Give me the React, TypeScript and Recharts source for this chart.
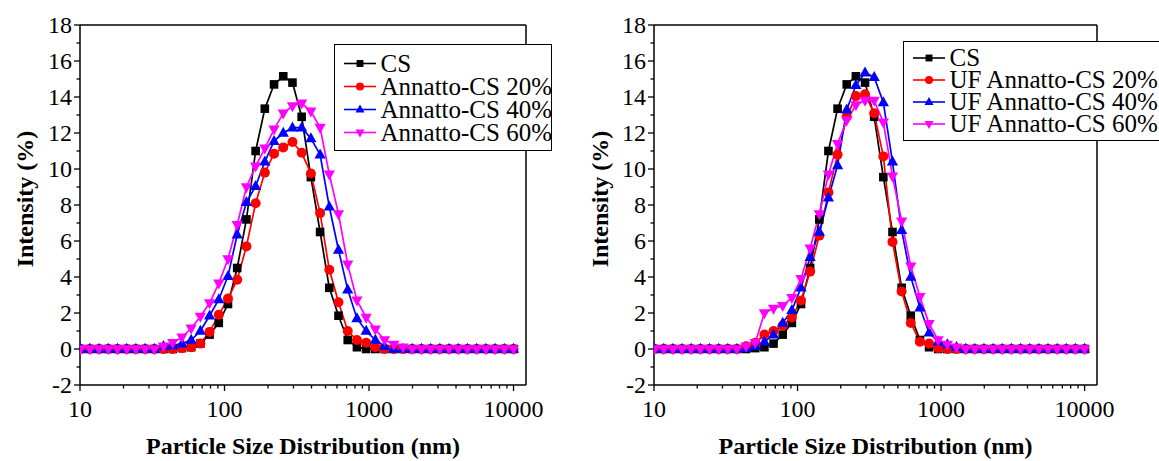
import React from 'react';
import { LineChart, Line, XAxis, YAxis, ReferenceLine, Legend } from 'recharts';

// DLS size bins (nm), 10 nm .. 10000 nm
const sizeNm = [
  10.1, 11.7, 13.54, 15.69, 18.17, 21.04, 24.36, 28.21, 32.67, 37.84,
  43.82, 50.75, 58.77, 68.06, 78.82, 91.28, 105.7, 122.4, 141.8, 164.2,
  190.1, 220.2, 255.0, 295.3, 342.0, 396.1, 458.7, 531.2, 615.1, 712.4,
  825.0, 955.4, 1106, 1281, 1484, 1718, 1990, 2305, 2669, 3091,
  3580, 4145, 4801, 5560, 6439, 7456, 8635, 10000,
];

const csValues = [
  0, 0, 0, 0, 0, 0, 0, 0, 0, 0,
  0, 0.05, 0.1, 0.3, 0.8, 1.45, 2.5, 4.5, 7.2, 11.0,
  13.35, 14.7, 15.15, 14.8, 12.9, 9.55, 6.5, 3.4, 1.85, 0.5,
  0.1, 0, 0, 0, 0, 0, 0, 0, 0, 0,
  0, 0, 0, 0, 0, 0, 0, 0,
];
const annatto20 = [
  0, 0, 0, 0, 0, 0, 0, 0, 0, 0,
  0, 0.05, 0.1, 0.3, 0.95, 1.9, 2.8, 3.85, 5.7, 8.1,
  9.8, 10.85, 11.2, 11.5, 10.9, 9.75, 7.55, 4.4, 2.6, 1.0,
  0.5, 0.35, 0.1, 0, 0, 0, 0, 0, 0, 0,
  0, 0, 0, 0, 0, 0, 0, 0,
];
const annatto40 = [
  0, 0, 0, 0, 0, 0, 0, 0, 0, 0.15,
  0.2, 0.3, 0.5, 1.0, 1.85, 2.75, 4.05, 6.35, 8.15, 9.05,
  10.4, 11.55, 12.0, 12.3, 12.3, 11.7, 10.8, 7.9, 5.5, 3.3,
  1.7, 1.0, 0.5, 0.15, 0, 0, 0, 0, 0, 0,
  0, 0, 0, 0, 0, 0, 0, 0,
];
const annatto60 = [
  0, 0, 0, 0, 0, 0, 0, 0, 0, 0.15,
  0.35, 0.65, 1.15, 1.8, 2.55, 3.65, 5.0, 6.9, 9.0, 10.15,
  11.15, 12.2, 13.1, 13.5, 13.65, 13.2, 12.3, 9.7, 7.5, 4.7,
  2.7, 1.75, 1.1, 0.5, 0.25, 0.1, 0, 0, 0, 0,
  0, 0, 0, 0, 0, 0, 0, 0,
];
const ufAnnatto20 = [
  0, 0, 0, 0, 0, 0, 0, 0, 0, 0,
  0.15, 0.35, 0.8, 1.0, 1.3, 1.75, 2.7, 4.3, 6.3, 8.7,
  10.8, 12.9, 14.05, 14.15, 13.1, 10.7, 5.95, 3.2, 1.45, 0.4,
  0.3, 0.05, 0, 0, 0, 0, 0, 0, 0, 0,
  0, 0, 0, 0, 0, 0, 0, 0,
];
const ufAnnatto40 = [
  0, 0, 0, 0, 0, 0, 0, 0, 0, 0,
  0.05, 0.15, 0.4, 0.8, 1.45, 2.15, 3.4, 5.1, 6.5, 8.4,
  10.2, 13.3, 14.65, 15.35, 15.1, 13.7, 10.4, 6.6, 4.0, 2.3,
  0.9, 0.4, 0.25, 0.1, 0, 0, 0, 0, 0, 0,
  0, 0, 0, 0, 0, 0, 0, 0,
];
const ufAnnatto60 = [
  0, 0, 0, 0, 0, 0, 0, 0, 0, 0,
  0.15, 0.35, 2.0, 2.25, 2.4, 2.85, 3.9, 5.6, 7.5, 9.7,
  11.4, 12.7, 13.55, 13.8, 13.8, 12.6, 9.6, 7.1, 4.6, 2.9,
  1.4, 0.5, 0.25, 0.1, 0, 0, 0, 0, 0, 0,
  0, 0, 0, 0, 0, 0, 0, 0,
];

const xMajorTicks = [10, 100, 1000, 10000];
const xMinorTicks = [
  20, 30, 40, 50, 60, 70, 80, 90,
  200, 300, 400, 500, 600, 700, 800, 900,
  2000, 3000, 4000, 5000, 6000, 7000, 8000, 9000,
];
const yTicks = [-2, -1, 0, 1, 2, 3, 4, 5, 6, 7, 8, 9, 10, 11, 12, 13, 14, 15, 16, 17, 18];
const X_MAX = 12200;

const FONT = '"Liberation Serif", "Times New Roman", serif';

type Shape = 'square' | 'circle' | 'up' | 'down';
interface Series {
  key: string;
  name: string;
  color: string;
  shape: Shape;
  values: number[];
}

const leftSeries: Series[] = [
  { key: 'cs', name: 'CS', color: '#000000', shape: 'square', values: csValues },
  { key: 'a20', name: 'Annatto-CS 20%', color: '#ff0000', shape: 'circle', values: annatto20 },
  { key: 'a40', name: 'Annatto-CS 40%', color: '#0000ff', shape: 'up', values: annatto40 },
  { key: 'a60', name: 'Annatto-CS 60%', color: '#ff00ff', shape: 'down', values: annatto60 },
];
const rightSeries: Series[] = [
  { key: 'cs', name: 'CS', color: '#000000', shape: 'square', values: csValues },
  { key: 'u20', name: 'UF Annatto-CS 20%', color: '#ff0000', shape: 'circle', values: ufAnnatto20 },
  { key: 'u40', name: 'UF Annatto-CS 40%', color: '#0000ff', shape: 'up', values: ufAnnatto40 },
  { key: 'u60', name: 'UF Annatto-CS 60%', color: '#ff00ff', shape: 'down', values: ufAnnatto60 },
];

function Marker({ shape, cx, cy, color, s = 1 }: { shape: Shape; cx?: number; cy?: number; color: string; s?: number }) {
  if (cx == null || cy == null) return null;
  if (shape === 'square') return <rect x={cx - 4.3 * s} y={cy - 4.3 * s} width={8.6 * s} height={8.6 * s} fill={color} />;
  if (shape === 'circle') return <circle cx={cx} cy={cy} r={5 * s} fill={color} />;
  if (shape === 'up')
    return <polygon points={`${cx},${cy - 6.2 * s} ${cx + 5.6 * s},${cy + 3.8 * s} ${cx - 5.6 * s},${cy + 3.8 * s}`} fill={color} />;
  return <polygon points={`${cx},${cy + 6.2 * s} ${cx + 5.6 * s},${cy - 3.8 * s} ${cx - 5.6 * s},${cy - 3.8 * s}`} fill={color} />;
}

const XTick = (props: any) => {
  const { x, y, payload } = props;
  const major = xMajorTicks.includes(payload.value);
  return (
    <g>
      <line x1={x} x2={x} y1={y} y2={y + (major ? 6 : 3.5)} stroke="#000" strokeWidth={1.3} />
      {major && (
        <text x={x} y={y + 32} textAnchor="middle" fontSize={24} fontFamily={FONT} fill="#000">
          {payload.value}
        </text>
      )}
    </g>
  );
};

const YTick = (props: any) => {
  const { x, y, payload } = props;
  const major = payload.value % 2 === 0;
  return (
    <g>
      <line x1={x} x2={x - (major ? 6 : 3.5)} y1={y} y2={y} stroke="#000" strokeWidth={1.3} />
      {major && (
        <text x={x - 8} y={y + 8} textAnchor="end" fontSize={24} fontFamily={FONT} fill="#000">
          {payload.value}
        </text>
      )}
    </g>
  );
};

function LegendBox({ items, width, padTop, rowH }: { items: Series[]; width: number; padTop: number; rowH: number }) {
  return (
    <div
      style={{
        border: '1.5px solid #000',
        background: '#fff',
        boxSizing: 'border-box',
        width,
        padding: `${padTop}px 0 ${padTop}px 8.5px`,
        fontFamily: FONT,
        fontSize: 25,
        color: '#000',
        whiteSpace: 'nowrap',
      }}
    >
      {items.map((s) => (
        <div key={s.key} style={{ display: 'flex', alignItems: 'center', height: rowH, lineHeight: `${rowH}px` }}>
          <svg width={32} height={rowH} style={{ display: 'block', flex: 'none' }}>
            <line x1={0} x2={32} y1={rowH / 2} y2={rowH / 2} stroke={s.color} strokeWidth={1.6} />
            <Marker shape={s.shape} cx={16} cy={rowH / 2} color={s.color} s={0.8} />
          </svg>
          <span style={{ marginLeft: 5 }}>{s.name}</span>
        </div>
      ))}
    </div>
  );
}

interface PanelProps {
  series: Series[];
  width: number;
  marginRight: number;
  yAxisWidth: number;
  legendLeft: number;
  legendTop: number;
  legendWidth: number;
  legendPad: number;
  legendRow: number;
}

function Panel({ series, width, marginRight, yAxisWidth, legendLeft, legendTop, legendWidth, legendPad, legendRow }: PanelProps) {
  const data = sizeNm.map((size, i) => {
    const row: Record<string, number> = { size };
    series.forEach((s) => {
      row[s.key] = s.values[i];
    });
    return row;
  });

  return (
    <LineChart width={width} height={461} data={data} margin={{ top: 25, right: marginRight, bottom: 0, left: 0 }}>
      <XAxis
        dataKey="size"
        type="number"
        scale="log"
        domain={[10, X_MAX]}
        allowDataOverflow
        ticks={[...xMajorTicks, ...xMinorTicks].sort((a, b) => a - b)}
        interval={0}
        tick={(p: any) => <XTick {...p} />}
        tickLine={false}
        tickSize={0}
        tickMargin={0}
        height={76}
        axisLine={{ stroke: '#000', strokeWidth: 1.5 }}
        label={{
          content: (p: any) => {
            const vb = p.viewBox || { x: 0, y: 0, width: 0 };
            return (
              <text
                x={vb.x + vb.width / 2}
                y={vb.y + 69}
                textAnchor="middle"
                fontSize={24}
                fontWeight="bold"
                fontFamily={FONT}
                fill="#000"
              >
                Particle Size Distribution (nm)
              </text>
            );
          },
        }}
      />
      <YAxis
        type="number"
        domain={[-2, 18]}
        ticks={yTicks}
        interval={0}
        tick={(p: any) => <YTick {...p} />}
        tickLine={false}
        tickSize={0}
        tickMargin={0}
        width={yAxisWidth}
        axisLine={{ stroke: '#000', strokeWidth: 1.5 }}
        label={{
          content: (p: any) => {
            const vb = p.viewBox || { x: 0, y: 0, height: 0 };
            const cx = vb.x + 33;
            const cy = vb.y + vb.height / 2 - 6;
            return (
              <text
                x={cx}
                y={cy}
                transform={`rotate(-90, ${cx}, ${cy})`}
                textAnchor="middle"
                fontSize={24}
                fontWeight="bold"
                fontFamily={FONT}
                fill="#000"
              >
                Intensity (%)
              </text>
            );
          },
        }}
      />
      <ReferenceLine y={18} stroke="#000" strokeWidth={1.5} />
      <ReferenceLine x={X_MAX} stroke="#000" strokeWidth={1.5} />
      {series.map((s) => (
        <Line
          key={s.key}
          type="linear"
          dataKey={s.key}
          name={s.name}
          stroke={s.color}
          strokeWidth={1.7}
          isAnimationActive={false}
          dot={(p: any) => <Marker key={`${s.key}-${p.index}`} shape={s.shape} cx={p.cx} cy={p.cy} color={s.color} />}
          activeDot={false}
        />
      ))}
      <Legend
        layout="vertical"
        align="center"
        verticalAlign="middle"
        wrapperStyle={{ left: legendLeft, top: legendTop, width: 'auto', height: 'auto' }}
        content={() => <LegendBox items={series} width={legendWidth} padTop={legendPad} rowH={legendRow} />}
      />
    </LineChart>
  );
}

export default function App() {
  return (
    <div
      style={{
        position: 'absolute',
        left: 0,
        top: 0,
        width: 1159,
        height: 461,
        overflow: 'hidden',
        background: '#fff',
      }}
    >
      <div style={{ position: 'absolute', left: 0, top: 0 }}>
        <Panel
          series={leftSeries}
          width={580}
          marginRight={54}
          yAxisWidth={80}
          legendLeft={334}
          legendTop={44}
          legendWidth={218}
          legendPad={6.5}
          legendRow={23}
        />
      </div>
      <div style={{ position: 'absolute', left: 575, top: 0 }}>
        <Panel
          series={rightSeries}
          width={584}
          marginRight={62}
          yAxisWidth={79}
          legendLeft={328}
          legendTop={41}
          legendWidth={290}
          legendPad={5}
          legendRow={22}
        />
      </div>
    </div>
  );
}
